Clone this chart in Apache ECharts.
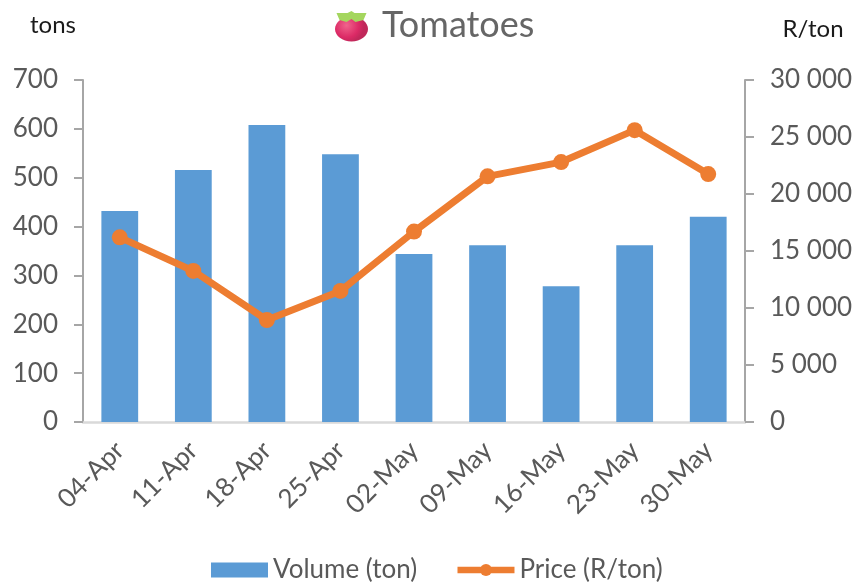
<!DOCTYPE html>
<html>
	<head>
		<meta charset="UTF-8">
		<title>Tomatoes</title>
		<style>
			html, body { margin: 0; padding: 0; background: #fff; }
			#chart { width: 852px; height: 582px; }
		</style>
	</head>
	<body>
		<div id="chart"></div>
		<script src="https://cdn.jsdelivr.net/npm/echarts@6/dist/echarts.min.js"></script>
		<script>
			var weeks = ['04-Apr', '11-Apr', '18-Apr', '25-Apr', '02-May', '09-May', '16-May', '23-May', '30-May'];
			var volume = [432, 516, 608, 548, 344, 362, 278, 362, 420];
			var price = [16200, 13250, 8950, 11500, 16700, 21550, 22800, 25600, 21750];

			var fontName = 'Lato';
			var grey = '#595959';

			var chart = echarts.init(document.getElementById('chart'));
			chart.setOption({
				backgroundColor: '#fff',
				animation: false,
				textStyle: { fontFamily: fontName },
				title: {
					text: 'Tomatoes',
					left: 377,
					top: 2,
					textStyle: { color: '#666', fontSize: 36, fontWeight: 'normal', fontFamily: fontName }
				},
				legend: {
					left: 206,
					top: 552,
					itemWidth: 57,
					itemHeight: 15,
					itemGap: 37,
					lineStyle: { width: 6.5 },
					textStyle: { color: grey, fontSize: 26, fontFamily: fontName },
					data: [{ name: 'Volume (ton)', icon: 'rect' }, { name: 'Price (R/ton)' }]
				},
				grid: { left: 83, right: 107, top: 80, bottom: 160, outerBoundsMode: 'none' },
				xAxis: {
					type: 'category',
					data: weeks,
					axisTick: { show: false },
					axisLine: { lineStyle: { color: '#d9d9d9', width: 2.5 } },
					axisLabel: { rotate: 45, color: grey, fontSize: 26, margin: 24, interval: 0 }
				},
				yAxis: [{
					type: 'value',
					min: 0,
					max: 700,
					interval: 100,
					name: 'tons',
					nameLocation: 'end',
					nameGap: 43,
					nameTextStyle: { color: '#1a1a1a', fontSize: 24, align: 'center', padding: [0, 60, 0, 0] },
					splitLine: { show: false },
					axisLine: { show: true, lineStyle: { color: '#a6a6a6', width: 2 } },
					axisTick: { show: true, length: 9, lineStyle: { color: '#a6a6a6', width: 2 } },
					axisLabel: { color: grey, fontSize: 26, margin: 25 }
				}, {
					type: 'value',
					min: 0,
					max: 30000,
					interval: 5000,
					name: 'R/ton',
					nameLocation: 'end',
					nameGap: 39,
					nameTextStyle: { color: '#1a1a1a', fontSize: 24, align: 'center', padding: [0, 0, 0, 136] },
					splitLine: { show: false },
					axisLine: { show: true, lineStyle: { color: '#a6a6a6', width: 2 } },
					axisTick: { show: true, length: 9, lineStyle: { color: '#a6a6a6', width: 2 } },
					axisLabel: {
						color: grey,
						fontSize: 26,
						margin: 25,
						formatter: function (v) {
							return String(v).replace(/\B(?=(\d{3})+$)/g, ' ');
						}
					}
				}],
				series: [{
					name: 'Volume (ton)',
					type: 'bar',
					barWidth: '50%',
					itemStyle: { color: '#5b9bd5' },
					data: volume
				}, {
					name: 'Price (R/ton)',
					type: 'line',
					yAxisIndex: 1,
					symbol: 'circle',
					symbolSize: 16,
					lineStyle: { color: '#ed7d31', width: 7 },
					itemStyle: { color: '#ed7d31' },
					data: price
				}],
				graphic: [{
					// tomato icon next to the title
					type: 'group',
					left: 335,
					top: 11,
					children: [{
						type: 'ellipse',
						shape: { cx: 17, cy: 18, rx: 16.5, ry: 12.5 },
						style: {
							fill: new echarts.graphic.RadialGradient(0.35, 0.35, 0.7, [
								{ offset: 0, color: '#f0648c' },
								{ offset: 0.7, color: '#dc2a66' },
								{ offset: 1, color: '#c0285a' }
							])
						}
					}, {
						type: 'polygon',
						shape: { points: [[2, 2], [13, 2], [17, 0], [20, 2], [32, 2], [29, 9], [21, 11], [17, 8], [12, 11], [5, 9]] },
						style: { fill: '#a4d65e' }
					}]
				}]
			});
		</script>
	</body>
</html>
